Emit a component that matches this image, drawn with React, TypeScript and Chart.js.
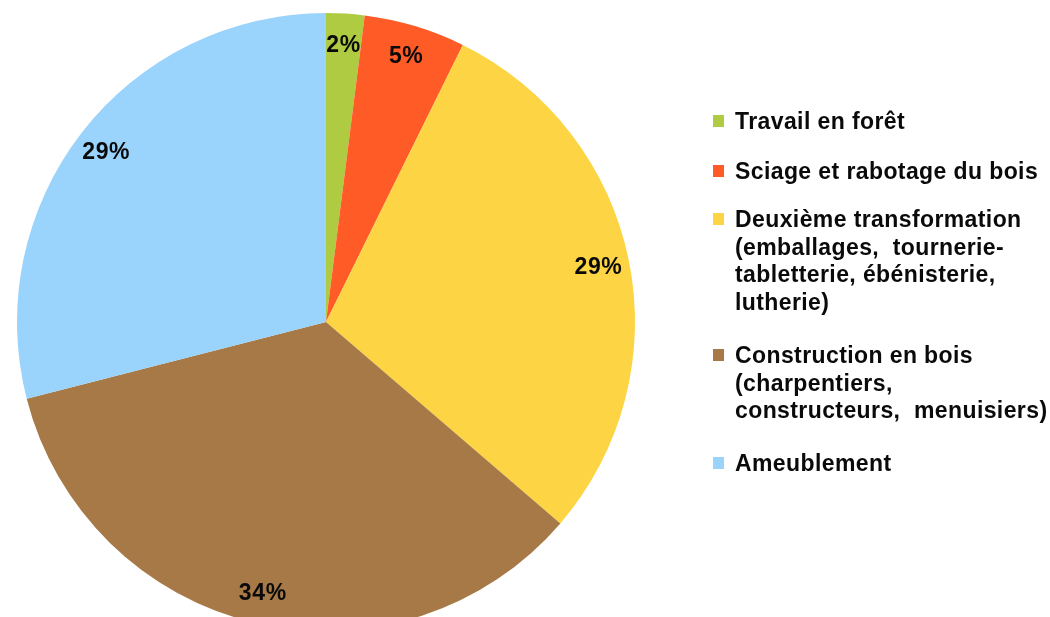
import { useEffect, useRef } from 'react';
import { Chart, registerables } from 'chart.js';

Chart.register(...registerables);

// ---- data ----
const categories: string[][] = [
  ['Travail en forêt'],
  ['Sciage et rabotage du bois'],
  ['Deuxième transformation', '(emballages,  tournerie-', 'tabletterie, ébénisterie,', 'lutherie)'],
  ['Construction en bois', '(charpentiers,', 'constructeurs,  menuisiers)'],
  ['Ameublement'],
];
const shares = [2.0, 5.3, 29.0, 34.7, 29.0];
const percentLabels = ['2%', '5%', '29%', '34%', '29%'];
const colors = ['#AECB42', '#FF5B26', '#FCD444', '#A67946', '#9AD3FC'];

const LEGEND_FONT = 'bold 23px "Liberation Sans", Arial, Helvetica, sans-serif';
const LABEL_FONT = 'bold 23px "Liberation Sans", Arial, Helvetica, sans-serif';

const labelPlugin = {
  id: 'sliceLabels',
  afterDatasetsDraw(chart: any) {
    const ctx = chart.ctx as CanvasRenderingContext2D;
    const meta = chart.getDatasetMeta(0);
    ctx.save();
    ctx.font = LABEL_FONT;
    (ctx as any).letterSpacing = '0.6px';
    ctx.fillStyle = '#0a0a0a';
    ctx.textAlign = 'center';
    ctx.textBaseline = 'middle';
    meta.data.forEach((arc: any, i: number) => {
      const p = arc.getProps(['x', 'y', 'startAngle', 'endAngle', 'outerRadius'], true);
      const a = (p.startAngle + p.endAngle) / 2;
      const r = p.outerRadius * 0.9;
      ctx.fillText(percentLabels[i], p.x + Math.cos(a) * r, p.y + Math.sin(a) * r + 1);
    });
    ctx.restore();
  },
};

const legendPlugin = {
  id: 'sideLegend',
  afterDraw(chart: any) {
    const ctx = chart.ctx as CanvasRenderingContext2D;
    const firstBaselines = [129, 179, 227, 363, 471];
    const lineHeight = 27.7;
    ctx.save();
    ctx.font = LEGEND_FONT;
    (ctx as any).letterSpacing = '0.4px';
    ctx.textAlign = 'left';
    ctx.textBaseline = 'alphabetic';
    categories.forEach((lines, i) => {
      const b = firstBaselines[i];
      ctx.fillStyle = colors[i];
      ctx.fillRect(713, b - 14, 11, 12);
      ctx.fillStyle = '#0a0a0a';
      lines.forEach((t, j) => ctx.fillText(t, 735, b + j * lineHeight));
    });
    ctx.restore();
  },
};

export default function App() {
  const ref = useRef<HTMLCanvasElement | null>(null);
  useEffect(() => {
    if (!ref.current) return;
    const chart = new Chart(ref.current, {
      type: 'pie',
      data: {
        labels: categories.map((l) => l.join(' ')),
        datasets: [
          {
            data: shares,
            backgroundColor: colors,
            borderWidth: 0,
          },
        ],
      },
      options: {
        responsive: false,
        maintainAspectRatio: false,
        animation: false,
        devicePixelRatio: 1,
        layout: { padding: { left: 17, top: 13, right: 415, bottom: 9 } },
        plugins: {
          legend: { display: false },
          tooltip: { enabled: false },
        },
      },
      plugins: [labelPlugin, legendPlugin],
    });
    return () => chart.destroy();
  }, []);

  return (
    <div
      style={{
        position: 'absolute',
        left: 0,
        top: 0,
        width: 1050,
        height: 617,
        overflow: 'hidden',
        background: '#ffffff',
      }}
    >
      <canvas ref={ref} width={1050} height={640} style={{ display: 'block' }} />
    </div>
  );
}
